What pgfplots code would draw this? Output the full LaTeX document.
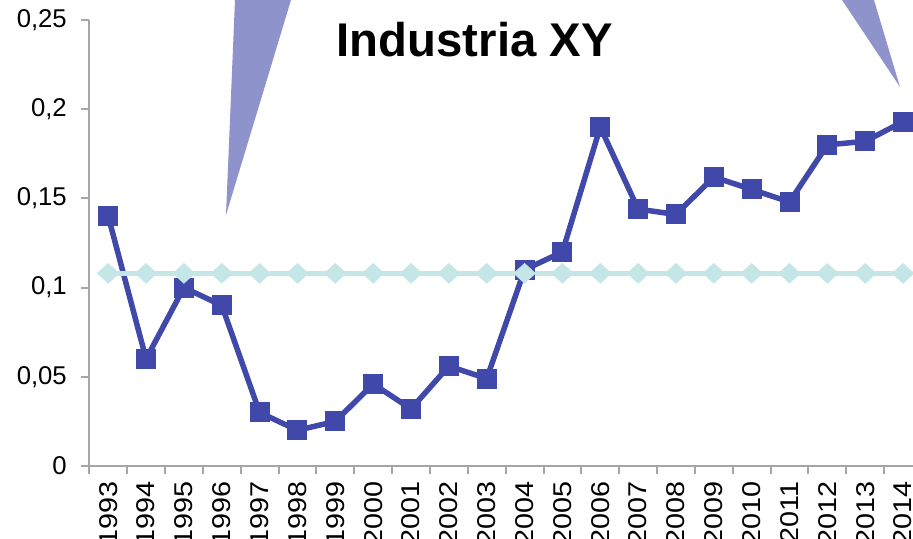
\documentclass[border=0pt]{standalone}
\usepackage{fontspec}
\setmainfont{Liberation Sans}
\usepackage{graphicx}
\usepackage{pgfplots}
\pgfplotsset{compat=1.18}
\definecolor{serblue}{RGB}{64,72,170}
\definecolor{sercyan}{RGB}{196,230,230}
\definecolor{tri}{RGB}{143,147,204}
\definecolor{axisgray}{RGB}{166,166,166}
\newcommand{\ticksize}{\fontsize{25.7bp}{30bp}\selectfont}
\newcommand{\sx}[1]{\scalebox{1.12}[1]{#1}}
\begin{document}
\begin{tikzpicture}
\begin{axis}[
  at={(0,0)}, anchor=south west,
  scale only axis, width=832.7bp, height=446bp,
  xmin=-0.5, xmax=21.5, ymin=0, ymax=0.25,
  enlargelimits=false,
  axis x line*=bottom, axis y line*=left,
  axis line style={draw=axisgray, line width=2bp},
  tick style={draw=axisgray, line width=2bp},
  major tick length=8bp, tick align=outside,
  xtick={-0.5,0.5,1.5,2.5,3.5,4.5,5.5,6.5,7.5,8.5,9.5,10.5,11.5,12.5,13.5,14.5,15.5,16.5,17.5,18.5,19.5,20.5,21.5},
  x tick label as interval,
  xticklabels={\sx{1993},\sx{1994},\sx{1995},\sx{1996},\sx{1997},\sx{1998},\sx{1999},\sx{2000},\sx{2001},\sx{2002},\sx{2003},\sx{2004},\sx{2005},\sx{2006},\sx{2007},\sx{2008},\sx{2009},\sx{2010},\sx{2011},\sx{2012},\sx{2013},\sx{2014}},
  xticklabel style={font=\ticksize, yshift=-4bp, rotate=90, anchor=east},
  ytick={0,0.05,0.1,0.15,0.2,0.25},
  yticklabels={{0},{0,05},{0,1},{0,15},{0,2},{0,25}},
  yticklabel style={font=\ticksize, anchor=east, xshift=-11bp},
  scaled y ticks=false,
]
\addplot[serblue, line width=5.5bp, mark=square*, mark size=9.5bp, mark options={line width=1bp}] coordinates {
(0,0.140) (1,0.060) (2,0.100) (3,0.090) (4,0.030) (5,0.020) (6,0.025) (7,0.046) (8,0.032) (9,0.056) (10,0.049)
(11,0.110) (12,0.120) (13,0.190) (14,0.144) (15,0.141) (16,0.162) (17,0.155) (18,0.148) (19,0.180) (20,0.182) (21,0.193)
};
\addplot[sercyan, line width=5.3bp, mark=diamond*, mark size=10bp, mark options={xscale=1.45, line width=0.5bp}] coordinates {
(0,0.108) (1,0.108) (2,0.108) (3,0.108) (4,0.108) (5,0.108) (6,0.108) (7,0.108) (8,0.108) (9,0.108) (10,0.108)
(11,0.108) (12,0.108) (13,0.108) (14,0.108) (15,0.108) (16,0.108) (17,0.108) (18,0.108) (19,0.108) (20,0.108) (21,0.108)
};
\end{axis}
\fill[tri] (145.7bp,466bp) -- (201.7bp,466bp) -- (136.7bp,251bp) -- cycle;
\fill[tri] (752.7bp,466bp) -- (784.7bp,466bp) -- (810.7bp,379bp) -- cycle;
\node[anchor=base, font=\fontsize{47.3bp}{52bp}\selectfont\bfseries, inner sep=0pt] at (385.4bp,409.3bp) {Industria XY};
\pgfresetboundingbox
\path (-89.3bp,-73bp) rectangle (823.7bp,466bp);
\end{tikzpicture}
\end{document}
